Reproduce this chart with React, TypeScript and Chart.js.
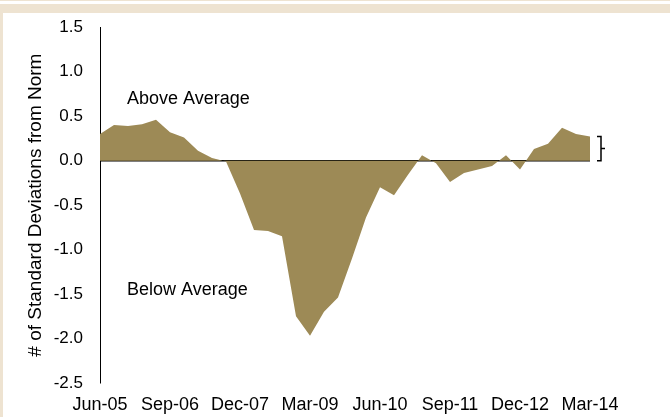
import React, { useEffect, useRef } from "react";
import { Chart, registerables } from "chart.js";

Chart.register(...registerables);

const quarters = [
  "Jun-05", "Sep-05", "Dec-05", "Mar-06", "Jun-06", "Sep-06", "Dec-06", "Mar-07", "Jun-07",
  "Sep-07", "Dec-07", "Mar-08", "Jun-08", "Sep-08", "Dec-08", "Mar-09", "Jun-09", "Sep-09",
  "Dec-09", "Mar-10", "Jun-10", "Sep-10", "Dec-10", "Mar-11", "Jun-11", "Sep-11", "Dec-11",
  "Mar-12", "Jun-12", "Sep-12", "Dec-12", "Mar-13", "Jun-13", "Sep-13", "Dec-13", "Mar-14",
];

const deviations = [
  0.30, 0.40, 0.39, 0.41, 0.46, 0.32, 0.26, 0.11, 0.03, -0.01, -0.37, -0.78,
  -0.79, -0.85, -1.75, -1.97, -1.70, -1.54, -1.10, -0.64, -0.30, -0.39, -0.16, 0.06,
  -0.03, -0.24, -0.14, -0.10, -0.06, 0.06, -0.10, 0.13, 0.19, 0.37, 0.30, 0.27,
];

const yTicks = [1.5, 1.0, 0.5, 0.0, -0.5, -1.0, -1.5, -2.0, -2.5];
const labelEvery = 5;
const yTitle = "# of Standard Deviations from Norm";
const aboveText = "Above Average";
const belowText = "Below Average";

const FONT = "'Liberation Sans', Arial, sans-serif";
const FILL = "#9D8A56";
const BEIGE = "#EEE3D1";

const annotationPlugin = {
  id: "annotations",
  afterDraw(chart: any) {
    const { ctx, scales } = chart;
    const x = scales.x;
    const y = scales.y;
    ctx.save();
    ctx.fillStyle = "#000";
    ctx.font = `18px ${FONT}`;
    ctx.textAlign = "left";
    ctx.textBaseline = "alphabetic";
    ctx.fillText(aboveText, x.getPixelForValue(1.93), y.getPixelForValue(0.64));
    ctx.fillText(belowText, x.getPixelForValue(1.93), y.getPixelForValue(-1.51));

    // bracket beside last value
    const last = deviations.length - 1;
    const bx = x.getPixelForValue(last) + 11;
    const yTop = y.getPixelForValue(deviations[last]);
    const yBot = y.getPixelForValue(0);
    ctx.strokeStyle = "#000";
    ctx.lineWidth = 1.5;
    ctx.beginPath();
    ctx.moveTo(bx - 4, yTop);
    ctx.lineTo(bx, yTop);
    ctx.lineTo(bx, yBot);
    ctx.lineTo(bx - 4, yBot);
    ctx.moveTo(bx, (yTop + yBot) / 2);
    ctx.lineTo(bx + 4, (yTop + yBot) / 2);
    ctx.stroke();
    ctx.restore();
  },
};

export default function App() {
  const ref = useRef<HTMLCanvasElement>(null);

  useEffect(() => {
    document.body.style.margin = "0";
    const chart = new Chart(ref.current as HTMLCanvasElement, {
      type: "line",
      data: {
        labels: quarters,
        datasets: [
          {
            data: deviations,
            fill: "origin",
            backgroundColor: FILL,
            borderWidth: 0,
            borderColor: FILL,
            pointRadius: 0,
            tension: 0,
          },
        ],
      },
      options: {
        responsive: false,
        animation: false,
        layout: { padding: { top: 25, right: 80, bottom: 0, left: 0 } },
        plugins: { legend: { display: false }, tooltip: { enabled: false } },
        scales: {
          x: {
            type: "category",
            offset: false,
            grid: { display: false, drawTicks: false },
            border: { display: false },
            ticks: {
              autoSkip: false,
              maxRotation: 0,
              padding: 11,
              color: "#000",
              font: { family: FONT, size: 18 },
              callback: (_v: any, i: number) => (i % labelEvery === 0 ? quarters[i] : ""),
            },
            afterFit: (s: any) => {
              s.height = 34;
            },
          },
          y: {
            min: yTicks[yTicks.length - 1],
            max: yTicks[0],
            afterBuildTicks: (s: any) => {
              s.ticks = yTicks.map((v) => ({ value: v }));
            },
            grid: {
              drawTicks: false,
              color: (c: any) => (c.tick && c.tick.value === 0 ? "#000" : "rgba(0,0,0,0)"),
              lineWidth: 1.5,
            },
            border: { display: true, color: "#000", width: 1 },
            ticks: {
              padding: 17,
              color: "#000",
              font: { family: FONT, size: 17 },
              callback: (v: any) => Number(v).toFixed(1),
            },
            title: {
              display: true,
              text: yTitle,
              color: "#000",
              font: { family: FONT, size: 19 },
              padding: { top: 24, bottom: 0 },
            },
            afterFit: (s: any) => {
              s.width = 100;
            },
          },
        },
      },
      plugins: [annotationPlugin],
    });
    return () => chart.destroy();
  }, []);

  return (
    <div style={{ position: "fixed", left: 0, top: 0, width: 670, height: 417, background: "#fff", overflow: "hidden" }}>
      <div style={{ position: "absolute", left: 0, top: 0, width: 670, height: 1, background: BEIGE }} />
      <div style={{ position: "absolute", left: 0, top: 4, width: 670, height: 9, background: BEIGE }} />
      <div style={{ position: "absolute", left: 0, top: 13, width: 3, height: 404, background: BEIGE }} />
      <canvas ref={ref} width={670} height={417} style={{ position: "absolute", left: 0, top: 0 }} />
    </div>
  );
}
